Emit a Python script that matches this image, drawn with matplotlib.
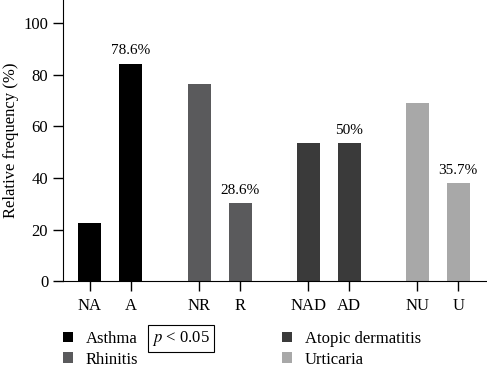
import matplotlib
matplotlib.use("Agg")
import matplotlib.pyplot as plt
from matplotlib.patches import Patch
import numpy as np

plt.rcParams['font.family'] = ['Liberation Serif', 'DejaVu Serif']
plt.rcParams['mathtext.fontset'] = 'stix'

labels = ['NA', 'A', 'NR', 'R', 'NAD', 'AD', 'NU', 'U']
values = [22.4, 84.3, 76.6, 30.1, 53.4, 53.4, 68.9, 37.9]
annot = ['', '78.6%', '', '28.6%', '', '50%', '', '35.7%']
groups = ['Asthma', 'Rhinitis', 'Atopic dermatitis', 'Urticaria']
colors = ['#000000', '#5a5a5c', '#3a3a3a', '#a8a8a8']

group_gap = 2.66
x = np.array([g * group_gap + k for g in range(4) for k in range(2)])
bar_colors = [colors[i // 2] for i in range(len(labels))]

fig = plt.figure(figsize=(4.87, 3.66), dpi=100)
ax = fig.add_axes([0.129, 0.232, 0.871, 0.768])

ax.bar(x, values, width=0.56, color=bar_colors)
for xi, v, t in zip(x, values, annot):
    if t:
        ax.text(xi, v + 2.5, t, ha='center', va='bottom', fontsize=11)

ax.set_xlim(-0.66, 9.68)
ax.set_ylim(0, 109)
ax.set_yticks([0, 20, 40, 60, 80, 100])
ax.set_xticks(x)
ax.set_xticklabels(labels)
ax.tick_params(axis='both', labelsize=12, length=7, width=1, direction='out')
ax.tick_params(axis='x', pad=5)
ax.set_ylabel('Relative frequency (%)', fontsize=12, labelpad=3)
for s in ['top', 'right']:
    ax.spines[s].set_visible(False)

handles = [Patch(facecolor=c, edgecolor='none', label=g) for c, g in zip(colors, groups)]
fig.legend(handles=handles, ncol=2, loc='upper left', bbox_to_anchor=(0.129, 0.096),
           frameon=False, fontsize=12, handlelength=0.6, handleheight=0.6,
           handletextpad=0.78, columnspacing=8.6, labelspacing=0.28, borderpad=0,
           borderaxespad=0)

fig.text(0.3717, 0.075, '$p$ < 0.05', ha='center', va='center', fontsize=12,
         bbox=dict(boxstyle='square,pad=0.22', facecolor='white', edgecolor='black', linewidth=0.8))

fig.savefig('out.png', dpi=100)
